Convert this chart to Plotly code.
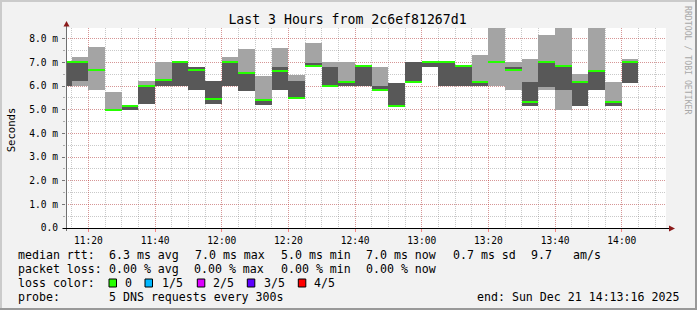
import plotly.graph_objects as go
from datetime import datetime, timedelta

# ---------------- data ----------------
bin_starts = ["11:10", "11:15", "11:20", "11:25", "11:30", "11:35", "11:40", "11:45",
              "11:50", "11:55", "12:00", "12:05", "12:10", "12:15", "12:20", "12:25",
              "12:30", "12:35", "12:40", "12:45", "12:50", "12:55", "13:00", "13:05",
              "13:10", "13:15", "13:20", "13:25", "13:30", "13:35", "13:40", "13:45",
              "13:50", "13:55", "14:00"]
# sorted ping times (ms) per 5 minute step: ping1 (min) .. ping5 (max), ping3 = median
ping1 = [6.00, 6.00, 5.82, 5.00, 5.00, 5.23, 6.00, 6.00, 5.82, 5.23, 6.00, 5.77, 5.20, 5.82,
         5.48, 6.85, 6.00, 6.00, 6.00, 5.82, 5.15, 6.17, 6.80, 6.00, 6.00, 6.00, 6.00, 5.82,
         5.14, 5.82, 4.97, 5.14, 5.82, 5.14, 6.14]
ping2 = [6.00, 6.23, 6.66, 5.00, 5.00, 5.23, 6.00, 6.00, 5.82, 5.23, 6.00, 5.77, 5.20, 5.82,
         5.48, 6.85, 6.00, 6.00, 6.00, 5.82, 5.15, 6.17, 6.80, 6.00, 6.00, 6.00, 7.00, 6.66,
         5.14, 5.97, 5.82, 5.14, 5.82, 5.14, 6.14]
median = [7.00, 7.00, 6.66, 5.00, 5.17, 6.00, 6.25, 7.00, 6.66, 5.44, 7.00, 6.55, 5.40, 6.62,
          5.48, 6.85, 6.00, 6.17, 6.85, 5.82, 5.15, 6.17, 7.00, 7.00, 6.85, 6.17, 7.00, 6.66,
          5.34, 7.00, 6.83, 6.17, 6.65, 5.34, 7.00]
ping4 = [7.00, 7.00, 6.66, 5.00, 5.17, 6.00, 6.25, 7.00, 6.82, 6.23, 7.00, 6.55, 5.40, 6.82,
         6.23, 6.97, 6.82, 6.17, 6.88, 6.00, 6.14, 7.00, 7.00, 7.00, 6.87, 6.17, 7.00, 6.82,
         6.18, 7.00, 6.83, 6.17, 6.65, 5.34, 7.00]
ping5 = [7.00, 7.24, 7.66, 5.76, 5.17, 6.23, 7.00, 7.00, 6.82, 6.23, 7.24, 7.58, 6.41, 7.62,
         6.48, 7.83, 7.00, 7.00, 6.88, 6.82, 6.14, 7.00, 7.00, 7.00, 6.87, 7.32, 8.50, 7.00,
         7.15, 8.17, 8.50, 6.52, 8.50, 6.18, 7.15]

y_tickvals = [0, 1, 2, 3, 4, 5, 6, 7, 8]
y_ticktext = ["0.0", "1.0 m", "2.0 m", "3.0 m", "4.0 m", "5.0 m", "6.0 m", "7.0 m", "8.0 m"]
x_ticktimes = ["11:20", "11:40", "12:00", "12:20", "12:40", "13:00", "13:20", "13:40", "14:00"]

title_text = "Last 3 Hours from 2c6ef81267d1"
legend_rows = [
    ["median rtt:", "6.3 ms avg", "7.0 ms max", "5.0 ms min", "7.0 ms now", "0.7 ms sd", "9.7", "am/s"],
    ["packet loss:", "0.00 % avg", "0.00 % max", "0.00 % min", "0.00 % now"],
]
loss_labels = ["0", "1/5", "2/5", "3/5", "4/5"]
loss_colors = ["#26ff00", "#00b8ff", "#dd00ff", "#5e00ff", "#ff0000"]
probe_text = "5 DNS requests every 300s"
end_text = "end: Sun Dec 21 14:13:16 2025"

DAY = "2025-12-21"
STEP_MIN = 5

# ---------------- geometry ----------------
W_PX, H_PX = 697, 310
L, T, PW, PH = 66, 28, 600, 200
R = W_PX - L - PW
B = H_PX - T - PH
MS_PER_PX = 1 / 23.66
Y_TOP = PH * MS_PER_PX


def px(x):
    return (x - L) / PW


def py(y):
    return (T + PH - y) / PH


def t(hm):
    return datetime.strptime(f"{DAY} {hm}", "%Y-%m-%d %H:%M")


centers = [t(s) + timedelta(minutes=STEP_MIN / 2) for s in bin_starts]
width_ms = STEP_MIN * 60 * 1000

fig = go.Figure()
fig.add_trace(go.Bar(x=centers, base=ping1, y=[b - a for a, b in zip(ping1, ping5)],
                     width=width_ms, marker=dict(color="#a4a4a4", line=dict(width=0)),
                     hoverinfo="skip"))
fig.add_trace(go.Bar(x=centers, base=ping2, y=[b - a for a, b in zip(ping2, ping4)],
                     width=width_ms, marker=dict(color="#585858", line=dict(width=0)),
                     hoverinfo="skip"))
fig.add_trace(go.Bar(x=centers, base=[m - MS_PER_PX for m in median],
                     y=[2 * MS_PER_PX] * len(median),
                     width=width_ms, marker=dict(color=loss_colors[0], line=dict(width=0)),
                     hoverinfo="skip"))

MONO = "DejaVu Sans Mono"
major_grid = "rgba(255,0,0,0.25)"
minor_grid = "rgba(120,120,120,0.4)"

fig.update_layout(
    width=W_PX, height=H_PX, autosize=False,
    margin=dict(l=L, r=R, t=T, b=B, pad=0),
    paper_bgcolor="#f2f2f2", plot_bgcolor="#ffffff",
    barmode="overlay", bargap=0, showlegend=False,
    font=dict(family=MONO, color="#000000"),
    title=dict(text=title_text, x=347.5 / W_PX, xanchor="center", y=1 - 19.5 / H_PX,
               yanchor="middle", font=dict(family=MONO, size=13.2, color="#000000")),
    xaxis=dict(type="date",
               range=[f"{DAY} 11:13:16", f"{DAY} 14:13:16"],
               tickmode="array", tickvals=[t(s) for s in x_ticktimes], ticktext=x_ticktimes,
               showgrid=True, gridcolor=major_grid, griddash="1px,1px", gridwidth=1,
               ticks="outside", ticklen=3, tickcolor="rgba(255,0,0,0.45)",
               tickfont=dict(family=MONO, size=9.6, color="#000000"),
               showline=False, zeroline=False, fixedrange=True,
               minor=dict(tickmode="linear", tick0=f"{DAY} 11:20", dtick=STEP_MIN * 60 * 1000,
                          showgrid=True, gridcolor=minor_grid, griddash="1px,1px", gridwidth=1,
                          ticks="")),
    yaxis=dict(range=[0, Y_TOP],
               tickmode="array", tickvals=y_tickvals, ticktext=y_ticktext,
               showgrid=True, gridcolor=major_grid, griddash="1px,1px", gridwidth=1,
               ticks="outside", ticklen=3, tickcolor="#777777",
               tickfont=dict(family=MONO, size=9.6, color="#000000"),
               ticklabelstandoff=2,
               showline=False, zeroline=False, fixedrange=True,
               minor=dict(tickmode="linear", tick0=0, dtick=0.5,
                          showgrid=True, gridcolor=minor_grid, griddash="1px,1px", gridwidth=1,
                          ticks="outside", ticklen=2, tickcolor="#aaaaaa")),
)

shapes = []
# frame shading
shapes.append(dict(type="line", xref="paper", yref="paper", x0=px(0), x1=px(W_PX), y0=py(1), y1=py(1),
                   line=dict(color="#cbcbcb", width=2)))
shapes.append(dict(type="line", xref="paper", yref="paper", x0=px(1), x1=px(1), y0=py(0), y1=py(H_PX),
                   line=dict(color="#cbcbcb", width=2)))
shapes.append(dict(type="line", xref="paper", yref="paper", x0=px(0), x1=px(W_PX), y0=py(H_PX - 1), y1=py(H_PX - 1),
                   line=dict(color="#999999", width=2)))
shapes.append(dict(type="line", xref="paper", yref="paper", x0=px(W_PX - 1), x1=px(W_PX - 1), y0=py(0), y1=py(H_PX),
                   line=dict(color="#999999", width=2)))
# axes
shapes.append(dict(type="line", xref="paper", yref="paper", x0=px(66.5), x1=px(66.5), y0=py(231), y1=py(25),
                   line=dict(color="#707070", width=1)))
shapes.append(dict(type="line", xref="paper", yref="paper", x0=px(63), x1=px(669), y0=py(228.5), y1=py(228.5),
                   line=dict(color="#000000", width=1)))
# arrows
shapes.append(dict(type="path", xref="paper", yref="paper",
                   path=f"M {px(66.5)} {py(21)} L {px(63.5)} {py(26.5)} L {px(69.5)} {py(26.5)} Z",
                   fillcolor="#8b1a1a", line=dict(width=0)))
shapes.append(dict(type="path", xref="paper", yref="paper",
                   path=f"M {px(675)} {py(228.5)} L {px(669)} {py(225.5)} L {px(669)} {py(231.5)} Z",
                   fillcolor="#8b1a1a", line=dict(width=0)))

annotations = []


def txt(s, x, y, size=11.6, anchor="left", color="#000000", angle=0):
    annotations.append(dict(text=s, xref="paper", yref="paper", x=px(x), y=py(y),
                            xanchor=anchor, yanchor="middle", showarrow=False, textangle=angle,
                            font=dict(family=MONO, size=size, color=color)))


row_y = [254.5, 268.5, 282.5, 296.5]
row1_x = [16.4, 106.7, 193.3, 279.1, 364.4, 451.1, 528.9, 571.1]
row2_x = [16.4, 106.7, 192.4, 279.1, 364.4]
for s, x in zip(legend_rows[0], row1_x):
    txt(s, x, row_y[0])
for s, x in zip(legend_rows[1], row2_x):
    txt(s, x, row_y[1])
txt("loss color:", 16.4, row_y[2])
box_x = [109, 145, 197.3, 247.3, 298.3]
lab_x = [123.3, 160, 210.7, 261.7, 311.7]
for lab, col, bx, lx in zip(loss_labels, loss_colors, box_x, lab_x):
    shapes.append(dict(type="rect", xref="paper", yref="paper", x0=px(bx), x1=px(bx + 7.5),
                       y0=py(279), y1=py(287), fillcolor=col, line=dict(color="#000000", width=1)))
    txt(lab, lx, row_y[2])
txt("probe:", 16.4, row_y[3])
txt(probe_text, 106.7, row_y[3])
txt(end_text, 680.5, row_y[3], anchor="right")
# unit label & watermark
txt("Seconds", 10.8, 129.5, size=10.6, anchor="center", angle=-90)
txt("RRDTOOL / TOBI OETIKER", 688, 60, size=8.2, anchor="center", color="#a8a8a8", angle=90)

fig.update_layout(shapes=shapes, annotations=annotations)
fig.write_html("out.html")
